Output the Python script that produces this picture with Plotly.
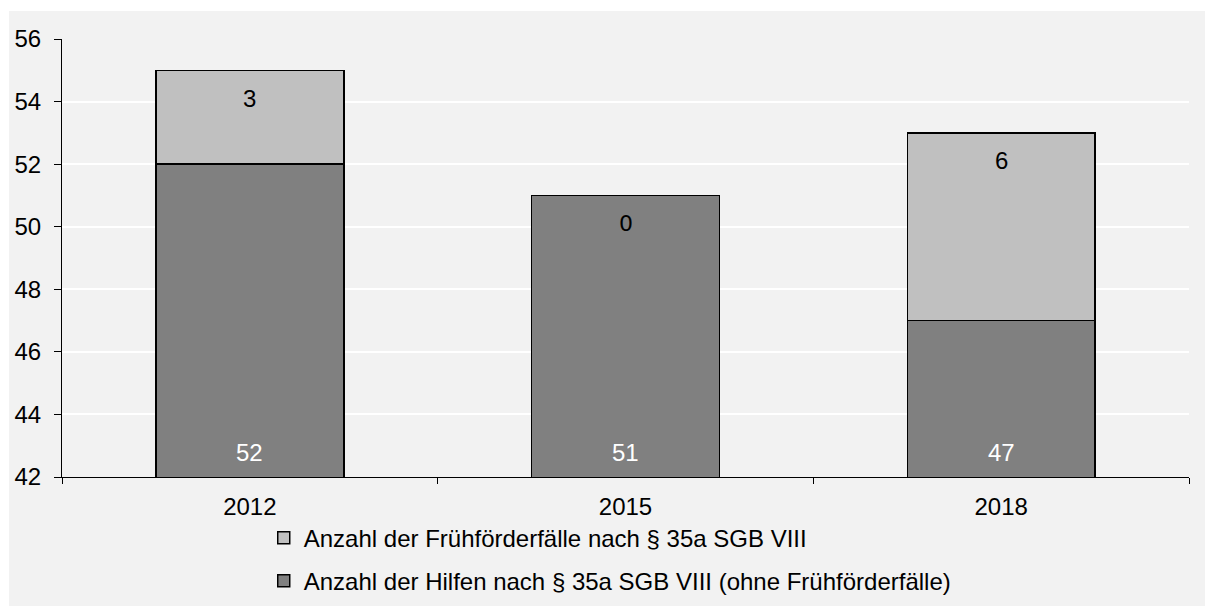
import plotly.graph_objects as go

years = ["2012", "2015", "2018"]
hilfen = [52, 51, 47]
fruehfoerder = [3, 0, 6]
name_hilfen = "Anzahl der Hilfen nach § 35a SGB VIII (ohne Frühförderfälle)"
name_frueh = "Anzahl der Frühförderfälle nach § 35a SGB VIII"
y_ticks = [42, 44, 46, 48, 50, 52, 54, 56]

Y_MIN, Y_MAX = 42, 56
FONT = "Liberation Sans, Arial, sans-serif"
FS = 24

fig = go.Figure()
fig.add_trace(go.Bar(
    x=years, y=hilfen, name=name_hilfen, legendgroup="a", legendrank=2,
    marker=dict(color="#808080", line=dict(color="black", width=1.5)),
    width=0.5,
))
fig.add_trace(go.Bar(
    x=years, y=fruehfoerder, name=name_frueh, legendgroup="b", legendrank=1,
    marker=dict(color="#c0c0c0", line=dict(color="black", width=1.5)),
    width=0.5,
))

annotations = []
for i, (h, f) in enumerate(zip(hilfen, fruehfoerder)):
    annotations.append(dict(
        x=i, y=Y_MIN, yshift=25, text=str(h), showarrow=False,
        font=dict(color="white", size=FS, family=FONT),
    ))
    annotations.append(dict(
        x=i, y=h + f, yshift=-28, text=str(f), showarrow=False,
        font=dict(color="black", size=(22 if f == 0 else FS),
                  family=("DejaVu Sans" if f == 0 else FONT)),
    ))

fig.update_layout(
    width=1205, height=606,
    barmode="stack",
    paper_bgcolor="white",
    plot_bgcolor="#f2f2f2",
    font=dict(family=FONT, size=FS, color="black"),
    margin=dict(l=62, r=16, t=39, b=129, autoexpand=False),
    showlegend=True,
    legend=dict(
        orientation="v", x=0.179, xanchor="left", y=-0.088, yanchor="top",
        traceorder="grouped", tracegroupgap=9,
        bgcolor="rgba(0,0,0,0)", font=dict(size=FS, family=FONT),
        itemwidth=30,
    ),
    annotations=annotations,
    shapes=[dict(
        type="rect", xref="paper", yref="paper",
        x0=-53 / 1127, x1=1 + 16 / 1127,
        y0=-130 / 438, y1=1 + 28 / 438,
        fillcolor="#f2f2f2", line=dict(width=0), layer="below",
    )],
    xaxis=dict(
        type="category", showline=True, linecolor="black", linewidth=1.2,
        ticks="outside", tickson="boundaries", ticklen=6, tickcolor="black",
        showgrid=False, ticklabelstandoff=8, range=[-0.5, 2.5],
        tickfont=dict(size=FS),
    ),
    yaxis=dict(
        range=[Y_MIN, Y_MAX], tickvals=y_ticks,
        showline=True, linecolor="black", linewidth=1.2,
        ticks="outside", ticklen=7, tickcolor="black",
        showgrid=True, gridcolor="white", gridwidth=1.5,
        zeroline=False, ticklabelstandoff=8,
        tickfont=dict(size=FS),
    ),
)

fig.write_html("out.html", config={"displayModeBar": False},
               post_script="document.body.style.margin='0';")
